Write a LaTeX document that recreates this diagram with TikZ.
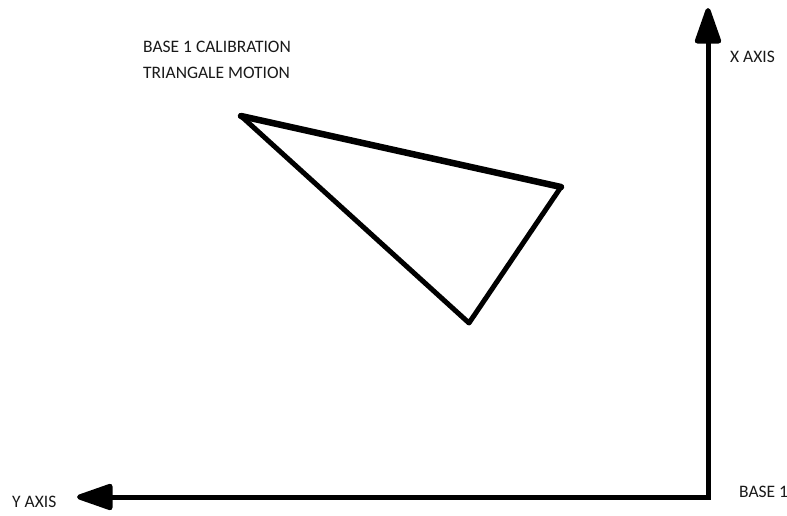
\documentclass[tikz,border=0pt]{standalone}
\usepackage{fontspec}
\setmainfont{Carlito}
\usetikzlibrary{arrows.meta}
\begin{document}
\begin{tikzpicture}[x=1pt,y=-1pt,
  thick line/.style={line width=5pt,line join=round,line cap=round,black},
  axis/.style={line width=5pt,black,-{Triangle[length=41pt,width=27pt,round]}},
  lbl/.style={font=\fontsize{17.5}{20}\selectfont,text=black!90,inner sep=0pt,anchor=west}]
\useasboundingbox (0,0) rectangle (787,515);
% axes
\coordinate (origin) at (708,497);
\coordinate (xtip) at (708,8);
\coordinate (ytip) at (77,497);
\draw[axis] (origin) -- (xtip);
\draw[axis] (origin) -- (ytip);
\draw[line width=5pt] ([xshift=-2.5pt]origin) -- ([xshift=2.5pt]origin);
% triangle
\coordinate (a) at (241,116);
\coordinate (b) at (561,187);
\coordinate (c) at (469,323);
\draw[thick line] (b) -- (c) -- (a);
\draw[thick line,line width=6.5pt] (a) -- (b);
% labels
\node[lbl] (t1) at (143,47) {BASE 1 CALIBRATION};
\node[lbl] (t2) at (143,73) {TRIANGALE MOTION};
\node[lbl] (xl) at (730,57) {X AXIS};
\node[lbl] (yl) at (12,502) {Y AXIS};
\node[lbl] (bl) at (739,492) {BASE 1};
\end{tikzpicture}
\end{document}
